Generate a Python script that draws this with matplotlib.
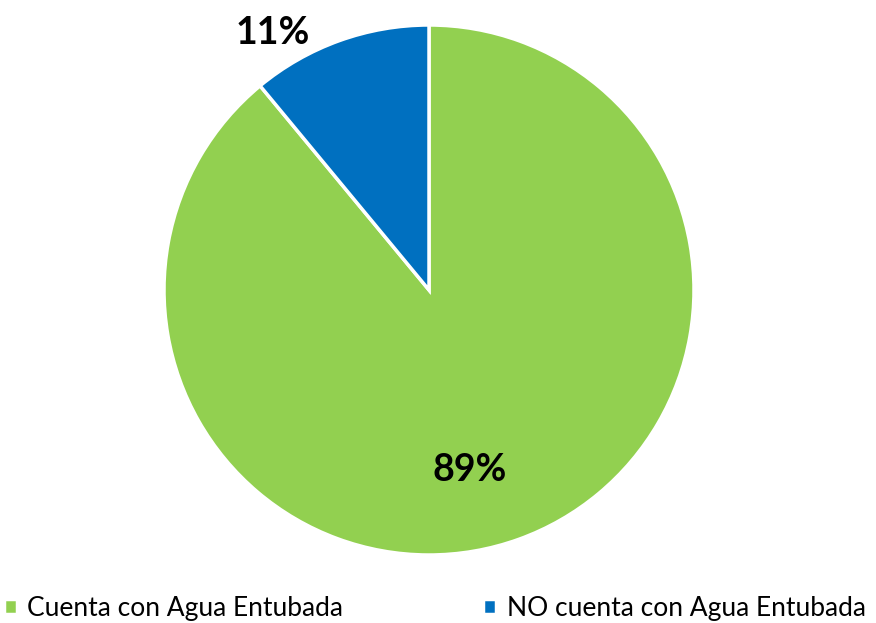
import matplotlib.pyplot as plt

# datos
labels = ['Cuenta con Agua Entubada', 'NO cuenta con Agua Entubada']
values = [89, 11]
colors = ['#92D050', '#0070C0']
pct_text = ['89%', '11%']

plt.rcParams['font.family'] = ['Lato', 'DejaVu Sans']

fig = plt.figure(figsize=(8.76, 6.23), dpi=100)
# centro ~ (429, 290) px, radio ~265 px
ax = fig.add_axes([164 / 876, (623 - 290 - 265) / 623, 530 / 876, 530 / 623])
wedges, _ = ax.pie(values, colors=colors, startangle=90, counterclock=False,
                   radius=1, wedgeprops=dict(edgecolor='white', linewidth=2.5))
ax.set_xlim(-1, 1)
ax.set_ylim(-1, 1)
ax.set_aspect('equal')

ax.text(0.155, -0.68, pct_text[0], ha='center', va='center',
        fontsize=27, fontweight='bold', color='black')
ax.text(-0.59, 0.97, pct_text[1], ha='center', va='center',
        fontsize=27, fontweight='bold', color='black')

fig.legend(wedges, labels, loc='lower left', bbox_to_anchor=(-0.023, -0.035),
           ncol=2, frameon=False, fontsize=19, handlelength=0.5,
           handleheight=0.5, handletextpad=0.4, columnspacing=5.3)

fig.savefig('out.png', dpi=100)
